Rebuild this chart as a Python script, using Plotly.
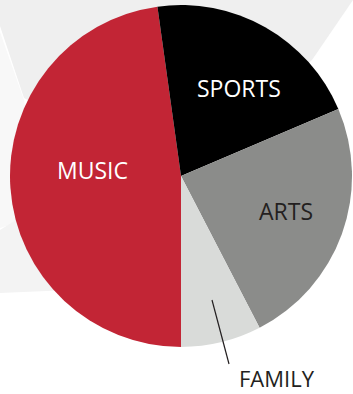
import plotly.graph_objects as go

categories = ["MUSIC", "SPORTS", "ARTS", "FAMILY"]
shares = [47.8, 20.8, 23.8, 7.6]
slice_colors = ["#C22535", "#000000", "#8B8C8A", "#D9DBD9"]
label_colors = ["#FFFFFF", "#FFFFFF", "#231F20", "#231F20"]

W, H = 353, 394

def px(x, y):
    return x / W, 1 - y / H

fig = go.Figure()
fig.add_trace(go.Pie(
    labels=categories,
    values=shares,
    sort=False,
    direction="clockwise",
    rotation=180,
    marker=dict(colors=slice_colors, line=dict(width=0)),
    textinfo="none",
    hoverinfo="label+percent",
    showlegend=False,
    domain=dict(x=[10 / W, 352 / W], y=[47 / H, 389 / H]),
))

def path(points):
    s = ""
    for i, (x, y) in enumerate(points):
        X, Y = px(x, y)
        s += ("M" if i == 0 else "L") + f"{X:.4f},{Y:.4f} "
    return s + "Z"

shapes = [
    dict(type="path", xref="paper", yref="paper", layer="below", line=dict(width=0),
         fillcolor="#F8F8F8", path=path([(0, 32), (24, 100), (40, 215), (0, 228)])),
    dict(type="path", xref="paper", yref="paper", layer="below", line=dict(width=0),
         fillcolor="#EFEFEF", path=path([(0, 0), (353, 0), (312, 60), (181, 176), (24, 98), (0, 26)])),
    dict(type="path", xref="paper", yref="paper", layer="below", line=dict(width=0),
         fillcolor="#F3F3F3", path=path([(0, 230), (40, 205), (70, 290), (0, 293)])),
]
x0, y0 = px(212, 300)
x1, y1 = px(229, 364)
shapes.append(dict(type="line", xref="paper", yref="paper", x0=x0, y0=y0, x1=x1, y1=y1,
                   line=dict(color="#231F20", width=1.2), layer="above"))

label_pos = [(92, 170), (239, 88), (286, 211), (277, 378)]
label_sizes = [23, 23, 23, 22]
annotations = []
for name, (lx, ly), c, s in zip(categories, label_pos, label_colors, label_sizes):
    ax_, ay_ = px(lx, ly)
    annotations.append(dict(x=ax_, y=ay_, xref="paper", yref="paper", text=name,
                            showarrow=False, xanchor="center", yanchor="middle",
                            borderpad=0,
                            font=dict(family="Open Sans", size=s, color=c)))

fig.update_layout(
    width=W, height=H,
    margin=dict(l=0, r=0, t=0, b=0),
    paper_bgcolor="#FFFFFF",
    plot_bgcolor="#FFFFFF",
    shapes=shapes,
    annotations=annotations,
)

fig.write_html("out.html")
